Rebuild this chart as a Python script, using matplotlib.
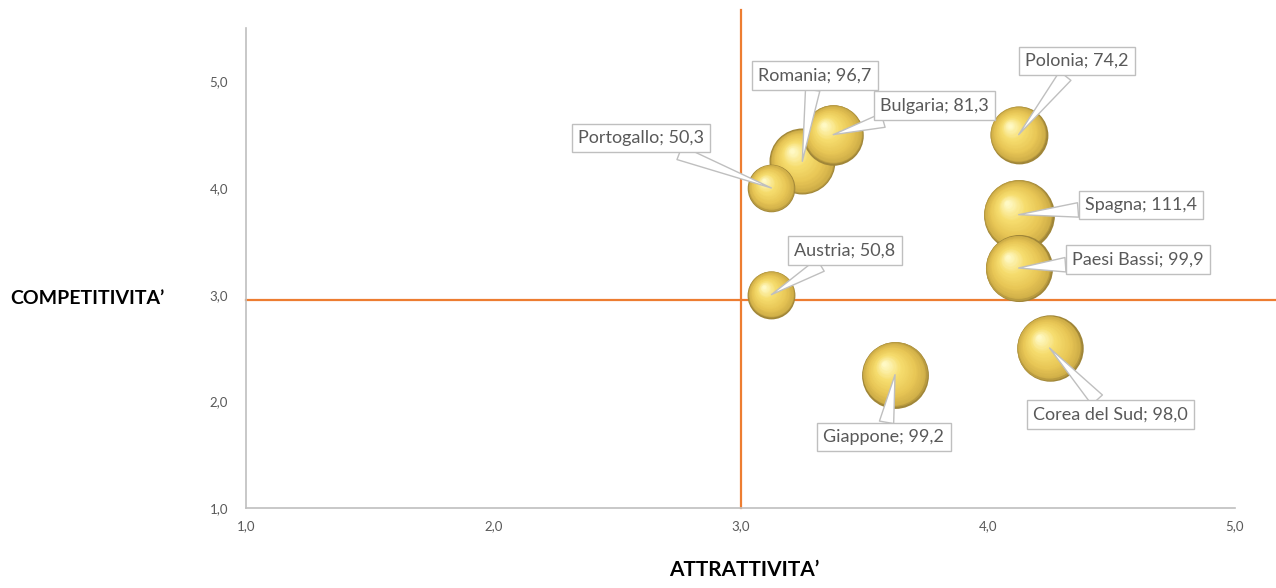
import matplotlib
matplotlib.use("Agg")
import matplotlib.pyplot as plt
import numpy as np
from matplotlib.transforms import ScaledTranslation
from matplotlib.colors import LinearSegmentedColormap

# ---- data ----
countries = ["Portogallo", "Romania", "Bulgaria", "Polonia", "Spagna",
             "Paesi Bassi", "Austria", "Giappone", "Corea del Sud"]
attrattivita = [3.125, 3.25, 3.375, 4.125, 4.125, 4.125, 3.125, 3.625, 4.25]
competitivita = [4.0, 4.25, 4.5, 4.5, 3.75, 3.25, 3.0, 2.25, 2.5]
valori = [50.3, 96.7, 81.3, 74.2, 111.4, 99.9, 50.8, 99.2, 98.0]
labels = ["Portogallo; 50,3", "Romania; 96,7", "Bulgaria; 81,3", "Polonia; 74,2",
          "Spagna; 111,4", "Paesi Bassi; 99,9", "Austria; 50,8",
          "Giappone; 99,2", "Corea del Sud; 98,0"]
x_ticks = [1.0, 2.0, 3.0, 4.0, 5.0]
y_ticks = [1.0, 2.0, 3.0, 4.0, 5.0]
x_tick_labels = ["1,0", "2,0", "3,0", "4,0", "5,0"]
y_tick_labels = ["1,0", "2,0", "3,0", "4,0", "5,0"]
x_cross = 3.0
y_cross = 2.95

# label offsets (points) from bubble centre
label_offsets = [(-94, 36), (9, 62), (73, 21), (42, 53), (88, 7),
                 (86, 6), (53, 32), (-8, -45), (44, -48)]

FONT = "Lato"
plt.rcParams["font.family"] = [FONT, "DejaVu Sans"]

fig = plt.figure(figsize=(12.76, 5.88), dpi=100)
ax = fig.add_axes([246/1276, 80/588, (1235-246)/1276, (508-28)/588])
ax.set_xlim(1.0, 5.0)
ax.set_ylim(1.0, 5.5)
ax.set_xticks(x_ticks)
ax.set_xticklabels(x_tick_labels)
ax.set_yticks(y_ticks)
ax.set_yticklabels(y_tick_labels)
ax.tick_params(length=0, labelsize=9.5, labelcolor="#595959")
ax.tick_params(axis="y", pad=13)
ax.tick_params(axis="x", pad=9)
for s in ["top", "right"]:
    ax.spines[s].set_visible(False)
for s in ["left", "bottom"]:
    ax.spines[s].set_color("#BFBFBF")
    ax.spines[s].set_linewidth(1.2)

# quadrant lines
ax.plot([x_cross, x_cross], [1.0, 5.67], color="#ED7D31", lw=1.6, clip_on=False, zorder=2)
ax.plot([1.0, 5.17], [y_cross, y_cross], color="#ED7D31", lw=1.6, clip_on=False, zorder=2)

# sphere-like bubbles
cmap = LinearSegmentedColormap.from_list(
    "gold", [(0.0, "#A08638"), (0.06, "#CFAE48"), (0.3, "#E8C655"),
             (0.65, "#F6DD6E"), (1.0, "#FFF9C4")])
max_d = 51.0  # diameter in points for max value
vmax = max(valori)
order = np.argsort(valori)[::-1]
N = 30
for i in order:
    d = max_d * np.sqrt(valori[i] / vmax)
    R = d / 2
    for k in range(N):
        t = k / (N - 1)
        f = 1 - 0.93 * t
        off = (1 - f) * 0.34 * R
        tr = ax.transData + ScaledTranslation(-off / 72, off / 72, fig.dpi_scale_trans)
        ax.scatter([attrattivita[i]], [competitivita[i]], s=(f * d) ** 2,
                   color=cmap(t), linewidths=0, transform=tr, zorder=3)

# labels with callouts
for i in range(len(countries)):
    ax.annotate(labels[i], xy=(attrattivita[i], competitivita[i]),
                xytext=label_offsets[i], textcoords="offset points",
                ha="center", va="center", fontsize=13, color="#595959",
                bbox=dict(boxstyle="square,pad=0.35", fc="white", ec="#BFBFBF", lw=1),
                arrowprops=dict(arrowstyle="wedge,tail_width=0.8,shrink_factor=0.5",
                                fc="white", ec="#BFBFBF", lw=1, shrinkA=0, shrinkB=0),
                zorder=5)

fig.text(10/1276, 1 - 298/588, "COMPETITIVITA’", fontsize=14, fontweight="bold",
         color="black", ha="left", va="center")
fig.text(744/1276, 1 - 570/588, "ATTRATTIVITA’", fontsize=15, fontweight="bold",
         color="black", ha="center", va="center")

fig.savefig("out.png", dpi=100, facecolor="white")
